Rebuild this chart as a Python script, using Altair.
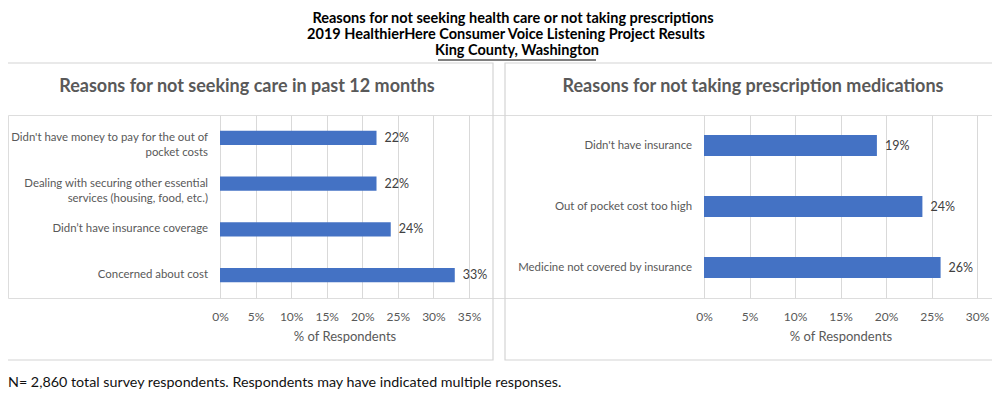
import altair as alt
import pandas as pd

# ---- data ----
care_reasons = [
    "Didn't have money to pay for the out of\npocket costs",
    "Dealing with securing other essential\nservices (housing, food, etc.)",
    "Didn\u2019t have insurance coverage",
    "Concerned about cost",
]
care_values = [22, 22, 24, 33]

rx_reasons = [
    "Didn't have insurance",
    "Out of pocket cost too high",
    "Medicine not covered by insurance",
]
rx_values = [19, 24, 26]

care_ticks = [0, 5, 10, 15, 20, 25, 30, 35]
rx_ticks = [0, 5, 10, 15, 20, 25, 30]

main_title = [
    "Reasons for not seeking health care or not taking prescriptions",
    "2019 HealthierHere Consumer Voice Listening Project Results",
    "King County, Washington",
]
care_title = "Reasons for not seeking care in past 12 months"
rx_title = "Reasons for not taking prescription medications"
axis_title = "% of Respondents"
footnote = "N= 2,860 total survey respondents. Respondents may have indicated multiple responses."

FONT = "Lato"
GRAY = "#595959"
BAR = "#4472C4"

care_df = pd.DataFrame({"reason": care_reasons, "value": care_values})
rx_df = pd.DataFrame({"reason": rx_reasons, "value": rx_values})


def panel(df, ticks, x_range, label_x, pad_inner, dom_max):
    y = alt.Y("reason:N", sort=list(df["reason"]), axis=None,
              scale=alt.Scale(paddingInner=pad_inner, paddingOuter=pad_inner / 2))
    x = alt.X("value:Q",
              scale=alt.Scale(domain=[0, dom_max], range=x_range, nice=False),
              axis=alt.Axis(values=ticks, labelExpr="datum.value + '%'",
                            grid=True, gridColor="#d9d9d9", domain=False, ticks=False,
                            labelFlush=False, labelOverlap=False,
                            labelPadding=13, labelFont=FONT, labelFontSize=12,
                            labelColor=GRAY, title=axis_title, titleFont=FONT,
                            titleFontSize=13, titleFontWeight="normal",
                            titleColor=GRAY, titlePadding=8, orient="bottom"))
    base = alt.Chart(df)
    bars = base.mark_bar(color=BAR).encode(x=x, y=y)
    vals = base.mark_text(align="left", dx=8, font=FONT, fontSize=12.5,
                          color="#404040").encode(
        x="value:Q", y=y, text=alt.Text("lab:N")
    ).transform_calculate(lab="datum.value + '%'")
    labs = base.mark_text(align="right", baseline="middle", font=FONT,
                          fontSize=11.4, color=GRAY, lineBreak="\n",
                          lineHeight=15).encode(
        x=alt.value(label_x), y=y, text="reason:N")
    return alt.layer(bars, vals, labs)


left = panel(care_df, care_ticks, [212, 461], 200, 0.69, 35)
right = panel(rx_df, rx_ticks, [696, 969], 684, 0.655, 30)

one = pd.DataFrame({"k": [0]})


def txt(t, x, y, size, weight="normal", color="black", align="center"):
    return alt.Chart(one).mark_text(text=t, font=FONT, fontSize=size,
                                    fontWeight=weight, color=color,
                                    align=align, baseline="middle").encode(
        x=alt.value(x), y=alt.value(y))


def box(x1, x2, y1, y2):
    return alt.Chart(one).mark_rect(fill=None, stroke="#d4d4d4",
                                    strokeWidth=1.2).encode(
        x=alt.value(x1), x2=alt.value(x2), y=alt.value(y1), y2=alt.value(y2))


deco = [
    box(-20, 485, -52, 245),
    box(497, 1010, -52, 245),
    txt(main_title[0], 505, -96, 14.5, "bold"),
    txt(main_title[1], 498, -80, 14.5, "bold"),
    txt(main_title[2], 509, -64, 14.5, "bold"),
    alt.Chart(one).mark_rule(color="black", strokeWidth=1).encode(
        x=alt.value(430), x2=alt.value(588), y=alt.value(-55)),
    txt(care_title, 239, -28, 18, "bold", GRAY),
    txt(rx_title, 745, -28, 18, "bold", GRAY),
    txt(footnote, 0, 268, 14.3, "normal", "#111111", "left"),
]

chart = alt.layer(left, right, *deco).resolve_scale(
    x="independent", y="independent"
).resolve_axis(x="independent").properties(
    width=984, height=183,
    padding={"left": 0, "top": 107, "right": 0, "bottom": 99},
    autosize=alt.AutoSizeParams(type="none"),
).configure_view(stroke=None).configure(background="white")

chart.save("out.html", embed_options={"renderer": "svg", "actions": False})
